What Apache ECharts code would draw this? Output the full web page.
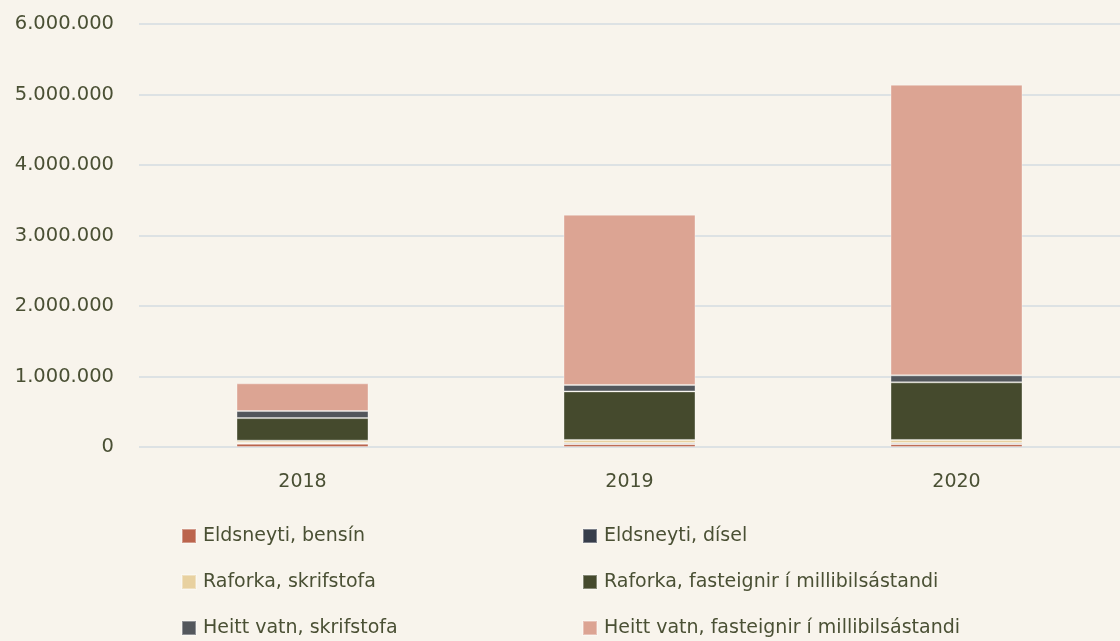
<!DOCTYPE html>
<html>
<head>
<meta charset="utf-8">
<script src="https://cdn.jsdelivr.net/npm/echarts@6/dist/echarts.min.js"></script>
<style>
	html, body { margin:0; padding:0; background:#f8f4ec; }
	#chart { width:1120px; height:641px; }
</style>
</head>
<body>
<div id="chart"></div>
<script>
	let years = ["2018", "2019", "2020"];
	let bensin = [45000, 40000, 40000];
	let disel = [15000, 15000, 15000];
	let raforkaSkrif = [30000, 45000, 45000];
	let raforkaFast = [320000, 689000, 817000];
	let heittSkrif = [100000, 91000, 99000];
	let heittFast = [393000, 2415000, 4123000];

	let names = [
		"Eldsneyti, bensín",
		"Eldsneyti, dísel",
		"Raforka, skrifstofa",
		"Raforka, fasteignir í millibilsástandi",
		"Heitt vatn, skrifstofa",
		"Heitt vatn, fasteignir í millibilsástandi"
	];
	let colors = ["#bb644c", "#363d4a", "#e8d1a0", "#454a2d", "#53575c", "#dca493"];
	let values = [bensin, disel, raforkaSkrif, raforkaFast, heittSkrif, heittFast];

	let txt = "#4a5034";
	let font = "DejaVu Sans";

	function fmt(v) {
		return String(v).replace(/\B(?=(\d{3})+(?!\d))/g, ".");
	}

	let chart = echarts.init(document.getElementById("chart"));

	let series = names.map(function (n, i) {
		return {
			name: n,
			type: "bar",
			stack: "total",
			barWidth: 132,
			data: values[i],
			itemStyle: {
				color: colors[i],
				borderColor: "rgba(255,255,255,0.35)",
				borderWidth: 1
			}
		};
	});

	let legendBase = {
		orient: "vertical",
		top: 526,
		height: 120,
		padding: 0,
		icon: "rect",
		itemWidth: 14,
		itemHeight: 14,
		itemGap: 26,
		textStyle: { color: txt, fontSize: 19, fontFamily: font, lineHeight: 20, padding: [0, 0, 0, 2] }
	};

	let opt = {
		backgroundColor: "#f8f4ec",
		animation: false,
		color: colors,
		grid: { left: 139, right: 0, top: 24, bottom: 194, containLabel: false },
		legend: [
			Object.assign({ left: 181, data: [names[0], names[2], names[4]] }, legendBase),
			Object.assign({ left: 582, data: [names[1], names[3], names[5]] }, legendBase)
		],
		xAxis: {
			type: "category",
			data: years,
			axisLine: { show: false },
			axisTick: { show: false },
			axisLabel: { color: txt, fontSize: 19, fontFamily: font, margin: 26 }
		},
		yAxis: {
			type: "value",
			min: 0,
			max: 6000000,
			interval: 1000000,
			axisLine: { show: false },
			axisTick: { show: false },
			splitLine: { lineStyle: { color: "#dde2e4", width: 2 } },
			axisLabel: { color: txt, fontSize: 19.5, fontFamily: font, margin: 25, formatter: fmt }
		},
		series: series
	};

	chart.setOption(opt);
</script>
</body>
</html>
